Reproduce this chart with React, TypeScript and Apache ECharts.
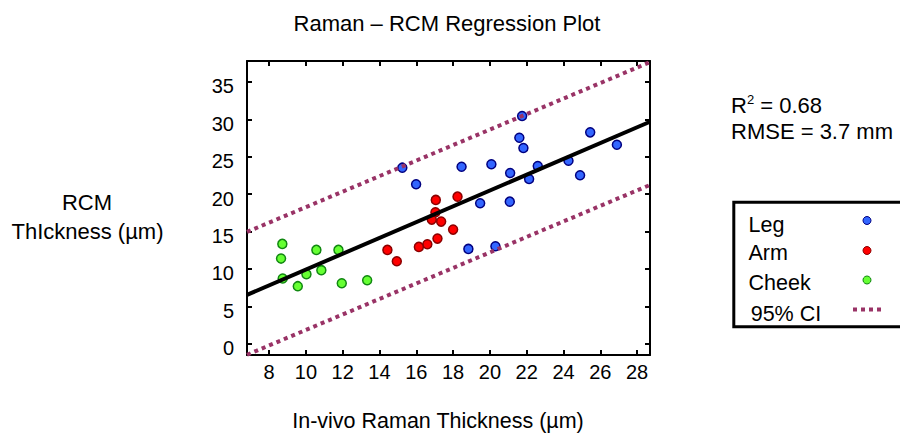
import React, { useEffect, useRef } from "react";
import * as echarts from "echarts";

// ---- Data ----
const legX = [15.24, 15.99, 21.75, 25.45, 21.6, 21.82, 26.9, 18.46, 20.08, 21.1, 22.6, 24.27, 22.13, 24.9, 19.47, 21.08, 18.83, 20.3];
const legY = [23.54, 21.32, 30.44, 28.26, 27.54, 26.17, 26.61, 23.67, 23.99, 22.83, 23.77, 24.47, 22.03, 22.52, 18.79, 19.0, 12.68, 13.04];

const armX = [17.06, 18.24, 17.04, 16.84, 17.35, 18.0, 17.15, 16.6, 16.14, 14.43, 14.94];
const armY = [19.23, 19.67, 17.58, 16.6, 16.33, 15.26, 14.06, 13.31, 12.95, 12.55, 11.04];

const cheekX = [8.72, 8.65, 8.74, 9.56, 10.03, 10.57, 10.84, 11.77, 11.95, 13.33];
const cheekY = [13.35, 11.39, 8.72, 7.7, 9.31, 12.55, 9.84, 12.55, 8.1, 8.5];

const fitX = [6.8, 28.7];
const fitY = [6.54, 29.68];
const ciUpperY = [14.95, 37.65];
const ciLowerY = [-1.47, 21.23];

const xTicks = [8, 10, 12, 14, 16, 18, 20, 22, 24, 26, 28];
const yTicks = [0, 5, 10, 15, 20, 25, 30, 35];

const legendLabels = ["Leg", "Arm", "Cheek", "95% CI"];
const chartTitle = "Raman \u2013 RCM Regression Plot";
const xTitle = "In-vivo Raman Thickness (\u00b5m)";
const yTitleLines = ["RCM", "ThIckness (\u00b5m)"];
const r2Text = "0.68";
const rmseText = "RMSE = 3.7 mm";

const X_MIN = 6.8;
const X_MAX = 28.7;
const Y_MIN = -1.5;
const Y_MAX = 37.8;

const FONT = "Liberation Sans, Arial, Helvetica, sans-serif";
const LEG_COLOR = { fill: "#3366FF", stroke: "#000080" };
const ARM_COLOR = { fill: "#FF0000", stroke: "#8B0000" };
const CHEEK_COLOR = { fill: "#66FF33", stroke: "#118811" };
const CI_COLOR = "#993366";

const zip = (xs: number[], ys: number[]) => xs.map((x, i) => [x, ys[i]]);

export default function App() {
  const ref = useRef<HTMLDivElement>(null);

  useEffect(() => {
    if (!ref.current) return;
    const chart = echarts.init(ref.current, null, { renderer: "svg" });

    const axisLine = { show: true, onZero: false, lineStyle: { color: "#000", width: 2 } };
    const tickX = { show: true, inside: true, length: 5, customValues: xTicks, lineStyle: { color: "#000", width: 2 } };
    const tickY = { show: true, inside: true, length: 5, customValues: yTicks, lineStyle: { color: "#000", width: 2 } };

    const scatterBase = (name: string, data: number[][], c: { fill: string; stroke: string }) => ({
      name,
      type: "scatter",
      data,
      symbol: "circle",
      symbolSize: 9,
      itemStyle: { color: c.fill, borderColor: c.stroke, borderWidth: 1.5, opacity: 1 },
      z: 2,
    });

    const lineBase = (name: string, ys: number[], color: string, width: number, type: any) => ({
      name,
      type: "line",
      data: zip(fitX, ys),
      symbol: "none",
      lineStyle: { color, width, type, cap: "butt" },
      clip: true,
      z: 3,
    });

    const legendRows = [
      { label: legendLabels[0], c: LEG_COLOR },
      { label: legendLabels[1], c: ARM_COLOR },
      { label: legendLabels[2], c: CHEEK_COLOR },
    ];
    const rowTextY = [224.5, 253, 282.5];
    const rowMarkY = [220.5, 250.5, 280];

    const graphics: any[] = [
      {
        type: "text",
        x: 447,
        y: 23,
        style: { text: chartTitle, fill: "#000", fontSize: 22, fontFamily: FONT, align: "center", verticalAlign: "middle" },
      },
      {
        type: "text",
        x: 438,
        y: 421,
        style: { text: xTitle, fill: "#000", fontSize: 21.5, fontFamily: FONT, align: "center", verticalAlign: "middle" },
      },
      {
        type: "text",
        x: 87,
        y: 202,
        style: { text: yTitleLines[0], fill: "#000", fontSize: 22, fontFamily: FONT, align: "center", verticalAlign: "middle" },
      },
      {
        type: "text",
        x: 87.5,
        y: 231,
        style: { text: yTitleLines[1], fill: "#000", fontSize: 22, fontFamily: FONT, align: "center", verticalAlign: "middle" },
      },
      {
        type: "text",
        x: 731,
        y: 105,
        style: {
          text: "{a|R}{s|2}{a| = " + r2Text + "}",
          fill: "#000",
          fontFamily: FONT,
          align: "left",
          verticalAlign: "middle",
          rich: {
            a: { fontSize: 22, fontFamily: FONT, fill: "#000", lineHeight: 24 },
            s: { fontSize: 13, fontFamily: FONT, fill: "#000", verticalAlign: "top", lineHeight: 14 },
          },
        },
      },
      {
        type: "text",
        x: 731,
        y: 131.5,
        style: { text: rmseText, fill: "#000", fontSize: 22, fontFamily: FONT, align: "left", verticalAlign: "middle" },
      },
      {
        type: "rect",
        shape: { x: 733.8, y: 202.2, width: 200, height: 124.6 },
        style: { fill: "#fff", stroke: "#000", lineWidth: 3 },
        z: 10,
      },
    ];
    legendRows.forEach((r, i) => {
      graphics.push({
        type: "text",
        x: 748.5,
        y: rowTextY[i],
        z: 11,
        style: { text: r.label, fill: "#000", fontSize: 21.5, fontFamily: FONT, align: "left", verticalAlign: "middle" },
      });
      graphics.push({
        type: "circle",
        z: 11,
        shape: { cx: 867, cy: rowMarkY[i], r: 4 },
        style: { fill: r.c.fill, stroke: r.c.stroke, lineWidth: 1 },
      });
    });
    graphics.push({
      type: "text",
      x: 750.7,
      y: 313.5,
      z: 11,
      style: { text: legendLabels[3], fill: "#000", fontSize: 21.5, fontFamily: FONT, align: "left", verticalAlign: "middle" },
    });
    graphics.push({
      type: "line",
      z: 11,
      shape: { x1: 853, y1: 309.5, x2: 882, y2: 309.5 },
      style: { stroke: CI_COLOR, lineWidth: 4, lineDash: [4, 4] },
    });

    chart.setOption({
      animation: false,
      backgroundColor: "#fff",
      grid: { left: 247, top: 61, right: 250, bottom: 79, containLabel: false },
      xAxis: [
        {
          type: "value",
          min: X_MIN,
          max: X_MAX,
          position: "bottom",
          axisLine,
          axisTick: tickX,
          axisLabel: { customValues: xTicks, fontSize: 20, color: "#000", margin: 7, fontFamily: FONT },
          splitLine: { show: false },
        },
        {
          type: "value",
          min: X_MIN,
          max: X_MAX,
          position: "top",
          axisLine,
          axisTick: tickX,
          axisLabel: { show: false },
          splitLine: { show: false },
        },
      ],
      yAxis: [
        {
          type: "value",
          min: Y_MIN,
          max: Y_MAX,
          position: "left",
          axisLine,
          axisTick: tickY,
          axisLabel: {
            customValues: yTicks,
            fontSize: 20,
            color: "#000",
            margin: 13,
            fontFamily: FONT,
            verticalAlign: "top",
            lineHeight: 9,
          },
          splitLine: { show: false },
        },
        {
          type: "value",
          min: Y_MIN,
          max: Y_MAX,
          position: "right",
          axisLine,
          axisTick: tickY,
          axisLabel: { show: false },
          splitLine: { show: false },
        },
      ],
      series: [
        scatterBase("Leg", zip(legX, legY), LEG_COLOR),
        scatterBase("Arm", zip(armX, armY), ARM_COLOR),
        scatterBase("Cheek", zip(cheekX, cheekY), CHEEK_COLOR),
        lineBase("Fit", fitY, "#000", 4, "solid"),
        lineBase("95% CI upper", ciUpperY, CI_COLOR, 4, [4, 4]),
        lineBase("95% CI lower", ciLowerY, CI_COLOR, 4, [4, 4]),
      ],
      graphic: graphics,
    });

    return () => chart.dispose();
  }, []);

  return (
    <div
      ref={ref}
      style={{ position: "fixed", left: 0, top: 0, width: 900, height: 434, background: "#fff" }}
    />
  );
}
